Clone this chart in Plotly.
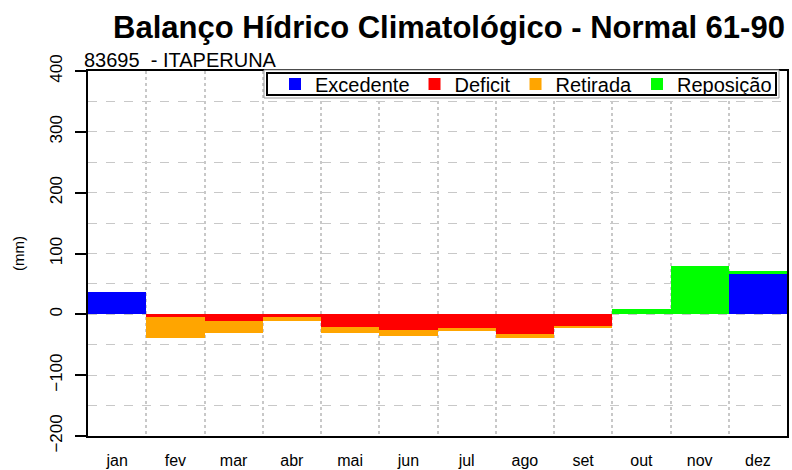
import plotly.graph_objects as go

months = ["jan", "fev", "mar", "abr", "mai", "jun", "jul", "ago", "set", "out", "nov", "dez"]
excedente = [36, 0, 0, 0, 0, 0, 0, 0, 0, 0, 0, 67]
deficit = [0, -5, -11, -5, -20, -25, -23, -33, -20, 0, 0, 0]
retirada = [0, -34, -20, -6, -11, -11, -5, -6, -2, 0, 0, 0]
reposicao = [0, 0, 0, 0, 0, 0, 0, 0, 0, 8, 79, 5]

y_ticks = [400, 300, 200, 100, 0, -100, -200]

xpos = list(range(1, len(months) + 1))

W, H = 792, 470
ML, MR, MT, MB = 88, 5, 71, 34
PW, PH = W - ML - MR, H - MT - MB


def px_x(px):
    return (px - ML) / PW


def px_y(py):
    return (H - MB - py) / PH


fig = go.Figure()
series = [
    ("Excedente", excedente, "#0000FF"),
    ("Deficit", deficit, "#FF0000"),
    ("Retirada", retirada, "#FFA500"),
    ("Reposição", reposicao, "#00FF00"),
]
for name, vals, col in series:
    fig.add_trace(go.Bar(x=xpos, y=vals, name=name,
                         marker=dict(color=col, line=dict(width=0)), width=1.0))

font = "Liberation Sans, Arial, sans-serif"
fig.update_layout(
    width=W, height=H,
    margin=dict(l=ML, r=MR, t=MT, b=MB, autoexpand=False),
    paper_bgcolor="white", plot_bgcolor="white",
    barmode="relative", bargap=0,
    font=dict(family=font, color="black", size=15),
    title=dict(text="<b>Balanço Hídrico Climatológico - Normal 61-90</b>",
               x=449 / W, xanchor="center", y=0.943, yanchor="middle",
               font=dict(size=31, family=font, color="black")),
    legend=dict(orientation="h", x=px_x(777), xanchor="right", y=px_y(84), yanchor="middle",
                bgcolor="rgba(0,0,0,0)", borderwidth=0,
                font=dict(size=20, family=font, color="black"),
                itemwidth=30, tracegroupgap=0, traceorder="normal"),
    showlegend=True,
)
# legend frame (double border as in the reference)
fig.add_shape(type="rect", xref="paper", yref="paper",
              x0=px_x(264), x1=px_x(779), y0=px_y(98), y1=px_y(70),
              line=dict(color="#999999", width=1), fillcolor="white", layer="above")
fig.add_shape(type="rect", xref="paper", yref="paper",
              x0=px_x(267), x1=px_x(776), y0=px_y(95), y1=px_y(73),
              line=dict(color="black", width=2), fillcolor="white", layer="above")

fig.update_xaxes(
    range=[0.5, 12.5], tickmode="array", tickvals=xpos, ticktext=months,
    showgrid=False, zeroline=False, ticks="", showline=True, linecolor="black",
    linewidth=2, mirror=True, ticklabelstandoff=9, automargin=False,
    tickfont=dict(size=16, family=font, color="black"),
    minor=dict(tick0=0.5, dtick=1, showgrid=True, gridcolor="#c8c8c8",
               griddash="dot", gridwidth=1.5, ticks=""),
)
fig.update_yaxes(
    range=[-200, 400], tickmode="array", tickvals=y_ticks,
    showgrid=True, gridcolor="#c8c8c8", griddash="dash", gridwidth=1.2,
    zeroline=False, ticks="outside", ticklen=11, tickwidth=2, tickcolor="black",
    showline=True, linecolor="black", linewidth=2, mirror=True,
    tickangle=-90, ticklabelstandoff=6, automargin=False,
    tickfont=dict(size=17, family=font, color="black"),
    minor=dict(dtick=50, tick0=0, showgrid=True, gridcolor="#c8c8c8",
               griddash="dash", gridwidth=1.2, ticks=""),
    title=dict(text="(mm)", standoff=19, font=dict(size=15, family=font, color="black")),
)
fig.add_annotation(text="83695  - ITAPERUNA", xref="paper", yref="paper",
                   x=px_x(82), y=px_y(60), xanchor="left", yanchor="middle",
                   showarrow=False, font=dict(size=20, family=font, color="black"))

fig.write_html("out.html", config={"displayModeBar": False},
               post_script="document.body.style.margin='0';")
